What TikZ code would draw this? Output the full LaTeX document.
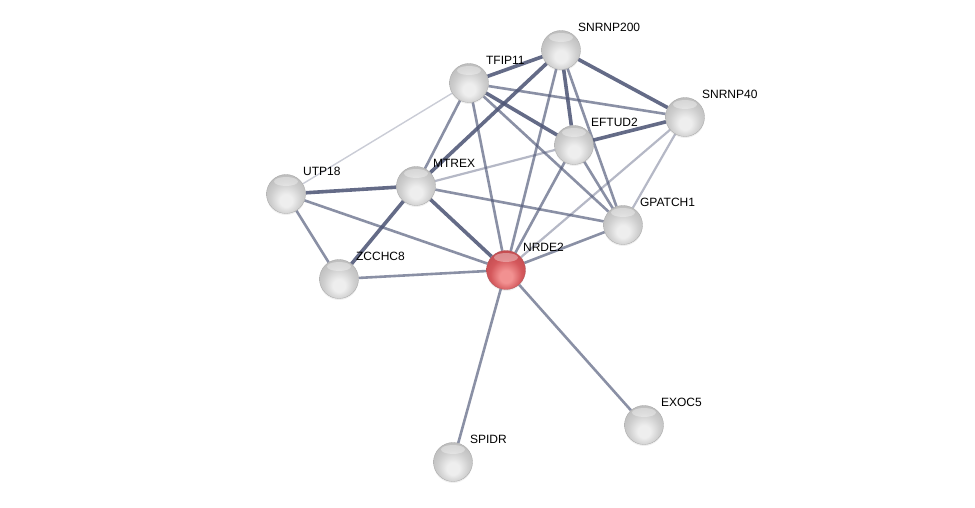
\documentclass[tikz,border=0pt]{standalone}
\usepackage{fontspec}
\setmainfont{Liberation Sans}
\usetikzlibrary{positioning,backgrounds,shadows}

\definecolor{edgecol}{RGB}{78,86,118}
\definecolor{glo}{RGB}{238,238,238}
\definecolor{gmid}{RGB}{206,206,206}
\definecolor{ghi}{RGB}{140,140,140}
\definecolor{redlo}{RGB}{242,145,145}
\definecolor{redmid}{RGB}{212,88,92}
\definecolor{redhi}{RGB}{150,45,50}

\pgfdeclareradialshading{glossgray}{\pgfpoint{0bp}{-10bp}}{%
  color(0bp)=(glo); color(8bp)=(glo); color(20bp)=(gmid);
  color(29bp)=(gmid!75!ghi); color(35bp)=(ghi); color(50bp)=(ghi)}
\pgfdeclareradialshading{glossred}{\pgfpoint{0bp}{-10bp}}{%
  color(0bp)=(redlo); color(8bp)=(redlo); color(20bp)=(redmid);
  color(29bp)=(redmid!75!redhi); color(35bp)=(redhi); color(50bp)=(redhi)}

\tikzset{
  protein/.style={circle, minimum size=39pt, inner sep=0pt,
    shading=glossgray, draw=gray!70, line width=0.3pt,
    drop shadow={opacity=0.12, shadow xshift=0pt, shadow yshift=-1.5pt},
    path picture={\fill[white, opacity=0.35]
      ([yshift=-7pt]path picture bounding box.north) ellipse (12pt and 4.5pt);}},
  query/.style={protein, shading=glossred, draw=redhi!80},
  tag/.style={font=\fontsize{12}{14}\selectfont, inner sep=1pt},
  strongedge/.style={edgecol, line width=3.6pt, opacity=0.88},
  midedge/.style={edgecol, line width=2.6pt, opacity=0.66},
  weakedge/.style={edgecol, line width=2.2pt, opacity=0.42},
  faintedge/.style={edgecol, line width=1.4pt, opacity=0.3}
}

\begin{document}
\begin{tikzpicture}[x=1pt, y=1pt]
	\useasboundingbox (0,0) rectangle (975,508);
	% Define nodes
	\node (snrnp200) [protein] at (561,458) {};
	\node (tfip11) [protein] at (469,425) {};
	\node (snrnp40) [protein] at (685,391) {};
	\node (eftud2) [protein] at (574,363) {};
	\node (utp18) [protein] at (286,314) {};
	\node (mtrex) [protein] at (416,322) {};
	\node (gpatch1) [protein] at (623,283) {};
	\node (nrde2) [query] at (506,238) {};
	\node (zcchc8) [protein] at (339,229) {};
	\node (exoc5) [protein] at (644,83) {};
	\node (spidr) [protein] at (453,46) {};

	% Labels
	\node (tsnrnp200) [tag, above right=3pt and 2pt of snrnp200.north east] {SNRNP200};
	\node (ttfip11) [tag, above right=3pt and 2pt of tfip11.north east] {TFIP11};
	\node (tsnrnp40) [tag, above right=3pt and 2pt of snrnp40.north east] {SNRNP40};
	\node (teftud2) [tag, above right=3pt and 2pt of eftud2.north east] {EFTUD2};
	\node (tutp18) [tag, above right=3pt and 2pt of utp18.north east] {UTP18};
	\node (tmtrex) [tag, above right=3pt and 2pt of mtrex.north east] {MTREX};
	\node (tgpatch1) [tag, above right=3pt and 2pt of gpatch1.north east] {GPATCH1};
	\node (tnrde2) [tag, above right=3pt and 2pt of nrde2.north east] {NRDE2};
	\node (tzcchc8) [tag, above right=3pt and 2pt of zcchc8.north east] {ZCCHC8};
	\node (texoc5) [tag, above right=3pt and 2pt of exoc5.north east] {EXOC5};
	\node (tspidr) [tag, above right=3pt and 2pt of spidr.north east] {SPIDR};

	% Draw edges
	\begin{scope}[on background layer]
	\path[strongedge]
	(tfip11) edge (snrnp200)
	(tfip11) edge (eftud2)
	(snrnp200) edge (snrnp40)
	(snrnp200) edge (eftud2)
	(snrnp200) edge (mtrex)
	(snrnp40) edge (eftud2)
	(mtrex) edge (utp18)
	(mtrex) edge (nrde2)
	(mtrex) edge (zcchc8);

	\path[midedge]
	(tfip11) edge (snrnp40)
	(tfip11) edge (gpatch1)
	(tfip11) edge (mtrex)
	(tfip11) edge (nrde2)
	(snrnp200) edge (nrde2)
	(snrnp200) edge (gpatch1)
	(eftud2) edge (nrde2)
	(eftud2) edge (gpatch1)
	(mtrex) edge (gpatch1)
	(utp18) edge (nrde2)
	(utp18) edge (zcchc8)
	(zcchc8) edge (nrde2)
	(gpatch1) edge (nrde2)
	(nrde2) edge (spidr)
	(nrde2) edge (exoc5);

	\path[weakedge]
	(snrnp40) edge (nrde2)
	(snrnp40) edge (gpatch1)
	(eftud2) edge (mtrex);

	\path[faintedge]
	(tfip11) edge (utp18);
	\end{scope}
\end{tikzpicture}
\end{document}
